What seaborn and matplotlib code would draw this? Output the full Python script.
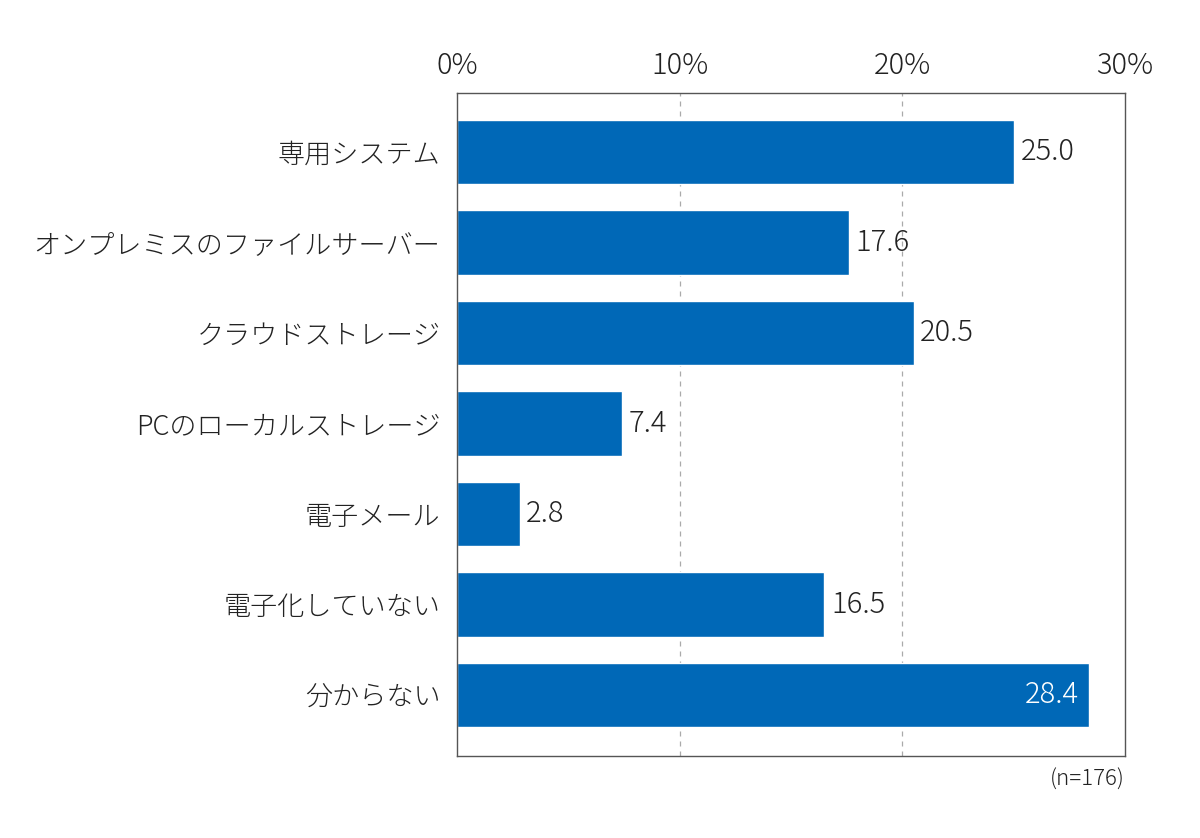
import pandas as pd
import matplotlib.pyplot as plt
import seaborn as sns

categories = ['専用システム', 'オンプレミスのファイルサーバー', 'クラウドストレージ',
              'PCのローカルストレージ', '電子メール', '電子化していない', '分からない']
values = [25.0, 17.6, 20.5, 7.4, 2.8, 16.5, 28.4]
xticks = [0, 10, 20, 30]
n_note = '(n=176)'

sns.set_style('white')
plt.rcParams['font.family'] = ['Noto Sans CJK JP', 'DejaVu Sans']
plt.rcParams['font.weight'] = 'light'

df = pd.DataFrame({'item': categories, 'value': values})

fig = plt.figure(figsize=(12, 8.38), dpi=100)
ax = fig.add_axes([0.381, 0.098, 0.5565, 0.791])

sns.barplot(data=df, x='value', y='item', color='#0068b7', saturation=1,
            width=0.71, ax=ax)

ax.set_xlim(0, 30)
ax.set_ylim(6.674, -0.652)
ax.set_xticks(xticks)
ax.set_xticklabels([f'{t}%' for t in xticks])
ax.xaxis.tick_top()
ax.tick_params(axis='x', length=0, pad=9, labelsize=21, colors='#222222')
ax.tick_params(axis='y', length=0, pad=12, labelsize=19.5, colors='#222222')
ax.set_xlabel('')
ax.set_ylabel('')

for t in [10, 20]:
    ax.axvline(t, color='#aaaaaa', ls=(0, (4, 4)), lw=0.9, zorder=0)

for s in ax.spines.values():
    s.set_color('#555555')
    s.set_linewidth(1.0)

for i, v in enumerate(values):
    if v > 27:
        ax.text(v - 0.45, i, f'{v:.1f}', ha='right', va='center',
                color='white', fontsize=21)
    else:
        ax.text(v + 0.3, i, f'{v:.1f}', ha='left', va='center',
                color='#222222', fontsize=21)

ax.text(1.0, -0.02, n_note, transform=ax.transAxes, ha='right', va='top',
        fontsize=16, color='#222222')

plt.savefig('out.png', dpi=100)
